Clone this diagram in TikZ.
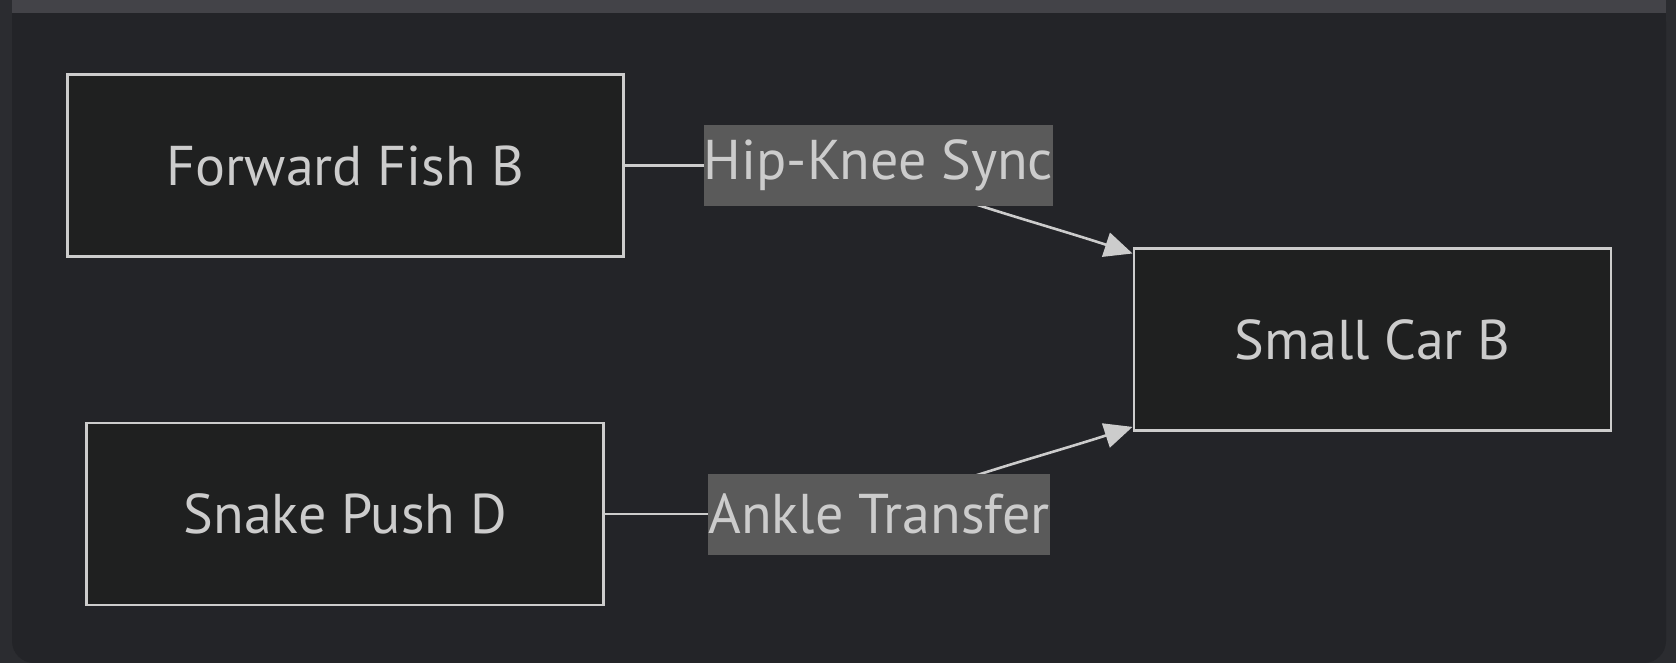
\documentclass[tikz,border=0pt]{standalone}
\usepackage{fontspec}
\setmainfont{PT Sans}
\usetikzlibrary{arrows.meta,positioning,backgrounds}
\definecolor{stripcol}{HTML}{2B2C30}
\definecolor{panelcol}{HTML}{232428}
\definecolor{barcol}{HTML}{434348}
\definecolor{nodecol}{HTML}{1F2020}
\definecolor{linecol}{HTML}{CCCCCC}
\definecolor{lblcol}{HTML}{5A5A5A}
\definecolor{textcol}{HTML}{CCCCCC}

\begin{document}
\begin{tikzpicture}[x=0.5pt,y=0.5pt,
  every node/.style={font=\fontsize{28}{34}\selectfont,text=textcol},
  box/.style={draw=linecol,line width=1.4pt,fill=nodecol,inner sep=0pt,minimum height=91pt},
  lbl/.style={fill=lblcol,inner sep=0pt,minimum width=171pt,minimum height=40.5pt},
  edge/.style={draw=linecol,line width=1.3pt}]
\useasboundingbox (0,0) rectangle (1676,663);
\node[box,minimum width=278pt] (fwd) at (345.3,497.3) {Forward Fish B};
\node[box,minimum width=258.5pt] (snake) at (345.3,148.9) {Snake Push D};
\node[box,minimum width=238.5pt] (car) at (1372.4,323.1) {Small Car B};
\node[lbl] (hip) at (878.6,497.3) {Hip-Knee Sync};
\node[lbl] (ankle) at (879,148.9) {Ankle Transfer};
\coordinate (carin1) at ([yshift=-3pt]car.north west);
\coordinate (carin2) at ([yshift=2.7pt]car.south west);
\begin{pgfonlayer}{background}
\fill[stripcol] (0,0) rectangle (1676,663);
\fill[panelcol,rounded corners=11pt] (12,0) rectangle (1666,663);
\fill[panelcol] (12,600) rectangle (1666,663);
\fill[barcol] (12,650) rectangle (1666,663);
\draw[edge] (fwd.east) -- (hip.center);
\draw[edge] (snake.east) -- (ankle.center);
\draw[edge,-{Triangle[length=14pt,width=12.5pt]}] (hip.center) .. controls (925,470) and (1040,440) .. (carin1);
\draw[edge,-{Triangle[length=14pt,width=12.5pt]}] (ankle.center) .. controls (925,176.2) and (1040,206.2) .. (carin2);
\end{pgfonlayer}
\end{tikzpicture}
\end{document}
